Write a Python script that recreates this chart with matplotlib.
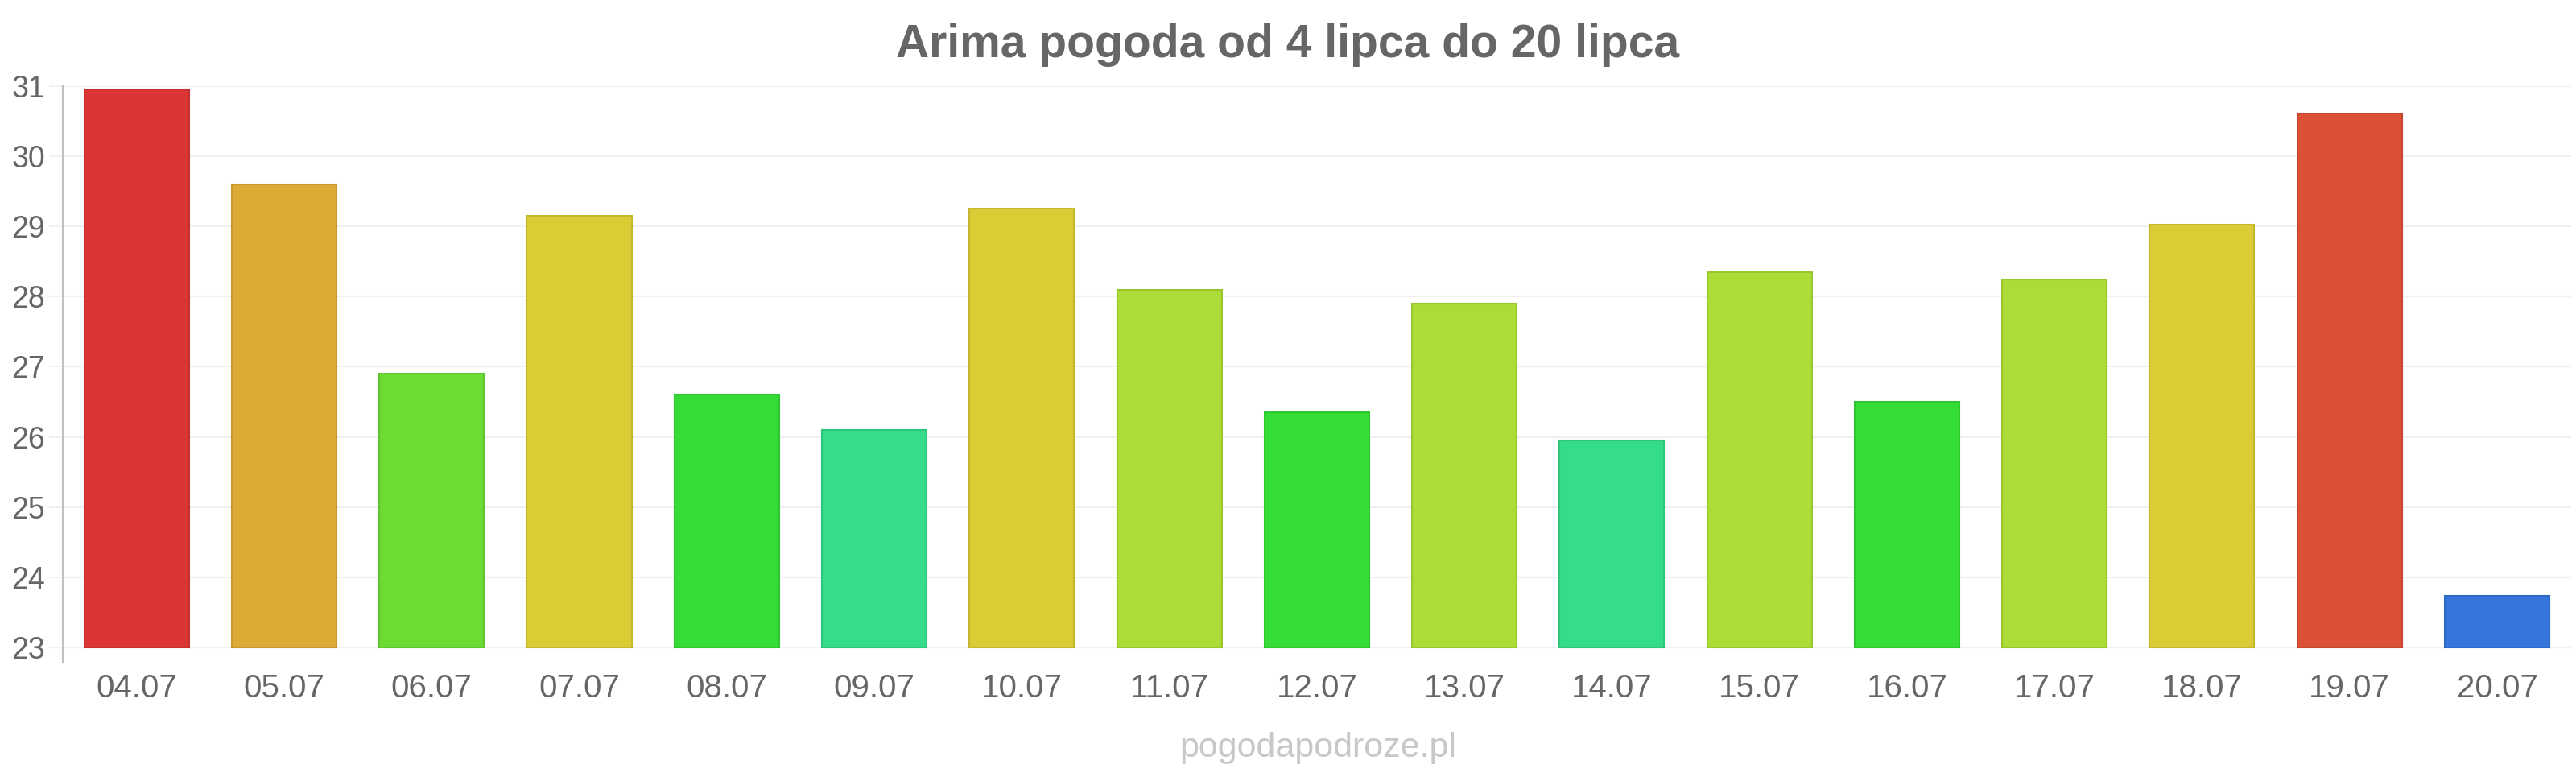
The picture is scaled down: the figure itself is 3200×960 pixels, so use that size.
import matplotlib
matplotlib.use("Agg")
import matplotlib.pyplot as plt

# Dane: temperatura w Arima, 4-20 lipca
dni = ['04.07', '05.07', '06.07', '07.07', '08.07', '09.07', '10.07', '11.07', '12.07',
       '13.07', '14.07', '15.07', '16.07', '17.07', '18.07', '19.07', '20.07']
temperatury = [30.95, 29.6, 26.9, 29.15, 26.6, 26.1, 29.25, 28.1, 26.35,
               27.9, 25.95, 28.35, 26.5, 28.25, 29.03, 30.61, 23.73]
kolory = ['#db3535', '#dcaa35', '#6cdc35', '#dbcb35', '#35dc35', '#35dc8a', '#dbcb35', '#acdc35', '#35dc35',
          '#acdc35', '#35dc8a', '#acdc35', '#35dc35', '#acdc35', '#dbcb35', '#dc5035', '#3575dc']
krawedzie = ['#c42f2f', '#c6982f', '#60c62f', '#c5b62f', '#2fc62f', '#2fc67b', '#c5b62f', '#9ac62f', '#2fc62f',
             '#9ac62f', '#2fc67b', '#9ac62f', '#2fc62f', '#9ac62f', '#c5b62f', '#c6472f', '#2f69c6']

plt.rcParams['font.family'] = ['Liberation Sans', 'DejaVu Sans']

fig = plt.figure(figsize=(32, 9.6), dpi=100)
ax = fig.add_axes([0.0244, 0.1427, 0.9736, 0.7458])

x = list(range(len(dni)))
dol = 23
ax.bar(x, [t - dol for t in temperatury], bottom=dol, width=0.71,
       color=kolory, edgecolor=krawedzie, linewidth=1.5, zorder=3)

ax.set_xlim(-0.5, len(dni) - 0.5)
ax.set_ylim(22.78, 31)
ax.set_yticks(range(23, 32))
ax.set_xticks(x)
ax.set_xticklabels(dni)

ax.grid(axis='y', color='#f0f0f0', linewidth=1.5, zorder=0)
ax.tick_params(axis='y', length=12, color='#f0f0f0', width=1.5, labelsize=27, labelcolor='#666666', pad=4)
ax.tick_params(axis='x', length=0, labelsize=29, labelcolor='#666666', pad=9)

for s in ['top', 'right', 'bottom']:
    ax.spines[s].set_visible(False)
ax.spines['left'].set_color('#c0c0c0')
ax.spines['left'].set_linewidth(1.5)

fig.text(0.5, 0.942, 'Arima pogoda od 4 lipca do 20 lipca', ha='center', va='center',
         fontsize=41, fontweight='bold', color='#666666')
fig.text(0.5115, 0.032, 'pogodapodroze.pl', ha='center', va='center',
         fontsize=31, color='#c8c8c8')

fig.savefig('out.png', dpi=100, facecolor='white')
